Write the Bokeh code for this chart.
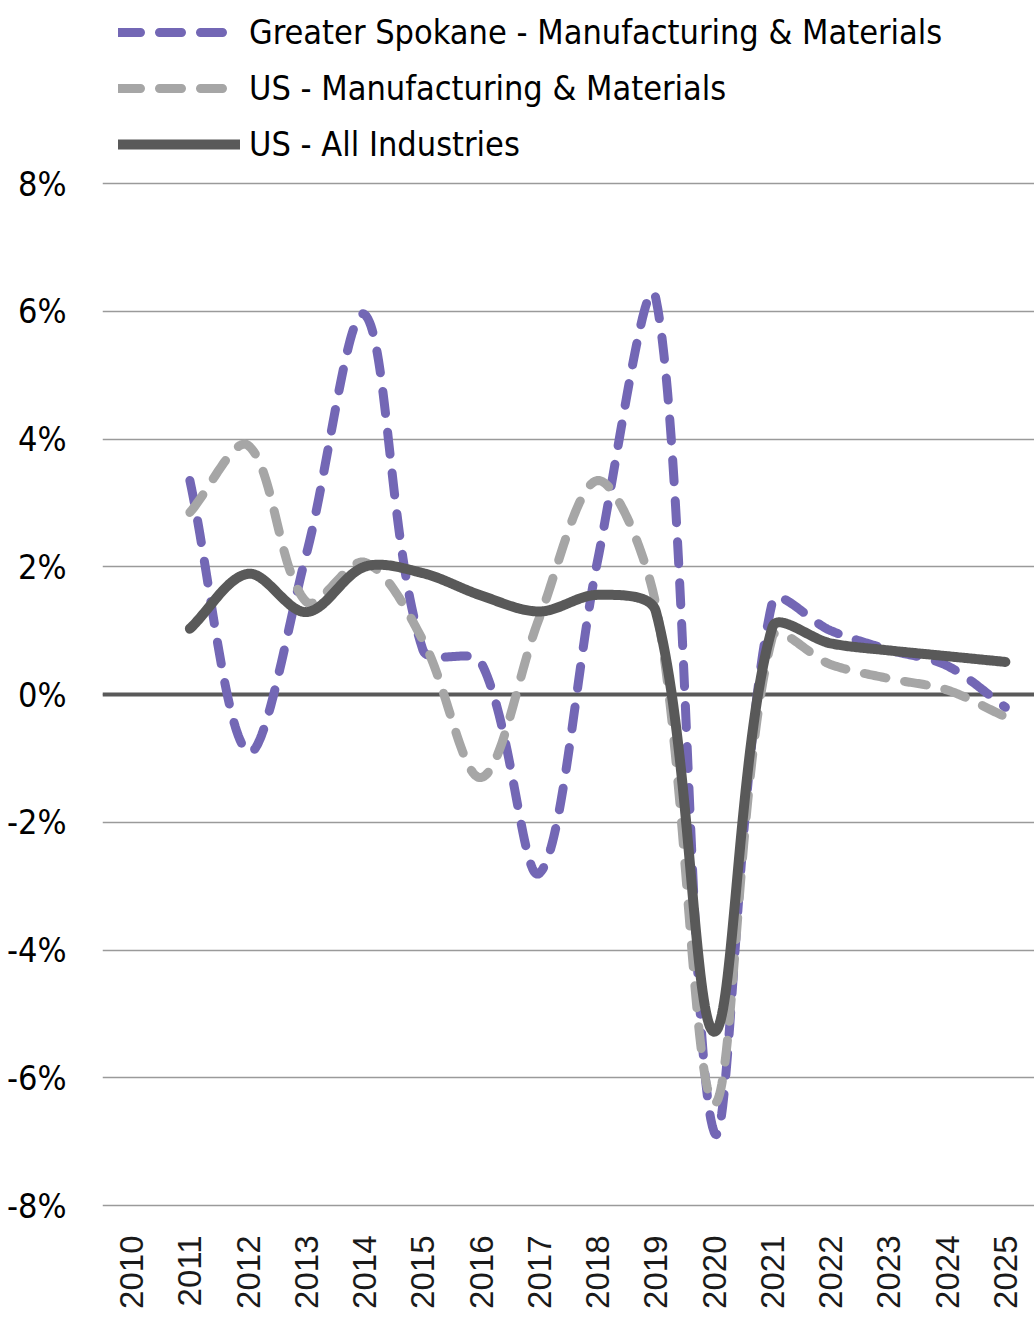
import math
import numpy as np
from bokeh.plotting import figure
from bokeh.models import Range1d, FixedTicker, Span, Legend, LegendItem
from bokeh.embed import file_html
from bokeh.resources import INLINE

years = [2011, 2012, 2013, 2014, 2015, 2016, 2017, 2018, 2019, 2020, 2021, 2022, 2023, 2024, 2025]
spokane_mm = [3.35, -0.9, 2.2, 5.95, 0.7, 0.5, -2.8, 2.1, 6.2, -6.85, 1.45, 1.0, 0.7, 0.45, -0.2]
us_mm = [2.85, 3.9, 1.45, 2.07, 0.85, -1.3, 1.2, 3.35, 1.4, -6.4, 0.9, 0.47, 0.25, 0.07, -0.35]
us_all = [1.03, 1.89, 1.29, 2.0, 1.9, 1.55, 1.3, 1.56, 1.3, -5.28, 1.05, 0.8, 0.69, 0.6, 0.51]

x_ticks = list(range(2010, 2026))
y_ticks = [-8, -6, -4, -2, 0, 2, 4, 6, 8]
y_labels = {t: f"{t}%" for t in y_ticks}

series_names = ["Greater Spokane - Manufacturing & Materials",
                "US - Manufacturing & Materials",
                "US - All Industries"]

PURPLE = "#7367b5"
GRAY = "#a6a6a6"
DARK = "#595959"
NARROW = "DejaVu Sans Condensed"

PX_PER_YEAR = 58.0
PX_PER_PCT = 63.9


def smooth(xs, ys, n=40):
    """Smoothed Bezier path through the data points (tangents scaled by screen-space
    segment lengths, as office-chart smoothing does)."""
    pts = np.column_stack([xs, ys]).astype(float)
    scr = pts * np.array([PX_PER_YEAR, PX_PER_PCT])
    m = len(pts)
    d = np.hypot(*(np.diff(scr, axis=0).T))  # segment lengths in px
    ox, oy = [], []
    for i in range(m - 1):
        p1, p2 = pts[i], pts[i + 1]
        if i > 0:
            t1 = (pts[i + 1] - pts[i - 1]) * d[i] / (d[i - 1] + d[i]) / 3.0
        else:
            t1 = (p2 - p1) / 3.0
        if i + 2 < m:
            t2 = (pts[i + 2] - pts[i]) * d[i] / (d[i] + d[i + 1]) / 3.0
        else:
            t2 = (p2 - p1) / 3.0
        c1 = p1 + t1
        c2 = p2 - t2
        t = np.linspace(0, 1, n, endpoint=(i == m - 2))
        b = ((1 - t) ** 3)[:, None] * p1 + (3 * (1 - t) ** 2 * t)[:, None] * c1 \
            + (3 * (1 - t) * t ** 2)[:, None] * c2 + (t ** 3)[:, None] * p2
        ox.extend(b[:, 0].tolist())
        oy.extend(b[:, 1].tolist())
    return ox, oy


FRAME_H = 1207
Y_TOP = 8 + 183 / 63.875
Y_BOT = -8 - 2 / 63.875
p = figure(width=1034, height=FRAME_H + 108, output_backend="svg", toolbar_location=None,
           x_range=Range1d(2009.5, 2025.5), y_range=Range1d(Y_BOT, Y_TOP),
           min_border_left=102, min_border_right=0, min_border_top=0, min_border_bottom=108)
p.outline_line_color = None

p.xgrid.grid_line_color = None
p.yaxis.ticker = FixedTicker(ticks=y_ticks)
p.ygrid.grid_line_color = "#9a9a9a"
p.ygrid.grid_line_width = 1.5

p.yaxis.major_label_overrides = y_labels
p.yaxis.axis_line_color = None
p.yaxis.major_tick_line_color = None
p.yaxis.minor_tick_line_color = None
p.yaxis.major_label_text_font = NARROW
p.yaxis.major_label_text_font_size = "34px"
p.yaxis.major_label_text_color = "#000000"
p.yaxis.major_label_standoff = 30

p.xaxis.ticker = FixedTicker(ticks=x_ticks)
p.xaxis.axis_line_color = None
p.xaxis.major_tick_line_color = None
p.xaxis.minor_tick_line_color = None
p.xaxis.major_label_orientation = math.pi / 2
p.xaxis.major_label_text_font = "Liberation Sans"
p.xaxis.major_label_text_font_size = "33px"
p.xaxis.major_label_text_color = "#1a1a1a"
p.xaxis.major_label_standoff = 22

zero = Span(location=0, dimension="width", line_color=DARK, line_width=4, level="underlay")
p.add_layout(zero)

sx, sy = smooth(years, spokane_mm)
gx, gy = smooth(years, us_mm)
ax, ay = smooth(years, us_all)

r1 = p.line(sx, sy, line_color=PURPLE, line_width=9, line_dash="22 19", line_cap="round", line_join="round")
r2 = p.line(gx, gy, line_color=GRAY, line_width=9, line_dash="22 19", line_cap="round", line_join="round")
r3 = p.line(ax, ay, line_color=DARK, line_width=10, line_cap="round", line_join="round")

legend = Legend(items=[LegendItem(label=series_names[0], renderers=[r1]),
                       LegendItem(label=series_names[1], renderers=[r2]),
                       LegendItem(label=series_names[2], renderers=[r3])],
                location=(16, FRAME_H - 12 - 152), orientation="vertical",
                label_text_font=NARROW, label_text_font_size="34px", label_text_color="#000000",
                glyph_width=122, glyph_height=40, label_standoff=9, spacing=16,
                padding=0, margin=0, border_line_color=None, background_fill_alpha=0)
p.add_layout(legend)

open("out.html", "w").write(file_html(p, INLINE))
